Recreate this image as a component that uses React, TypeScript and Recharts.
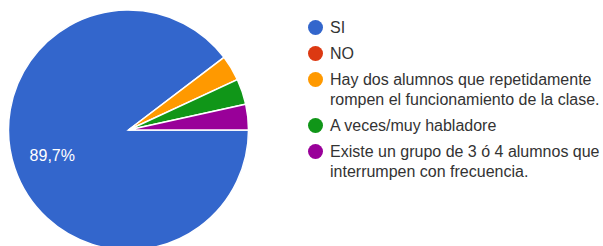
import { PieChart, Pie, Cell, Legend } from "recharts";

const categories = [
  "SI",
  "NO",
  "Hay dos alumnos que repetidamente rompen el funcionamiento de la clase.",
  "A veces/muy habladore",
  "Existe un grupo de 3 ó 4 alumnos que interrumpen con frecuencia.",
];
const responses = [26, 0, 1, 1, 1];
const colors = ["#3366cc", "#dc3912", "#ff9900", "#109618", "#990099"];

const data = categories.map((name, i) => ({ name, value: responses[i] }));

const RADIAN = Math.PI / 180;
const FONT = "Arial, 'Liberation Sans', sans-serif";

function renderLabel(props: any) {
  const { cx, cy, midAngle, outerRadius, percent } = props;
  if (percent < 0.05) return null;
  const r = outerRadius * 0.67;
  const x = cx + r * Math.cos(-midAngle * RADIAN);
  const y = cy + r * Math.sin(-midAngle * RADIAN);
  return (
    <text
      x={x}
      y={y}
      fill="#ffffff"
      fontSize={16}
      fontFamily={FONT}
      textAnchor="middle"
      dominantBaseline="central"
    >
      {(percent * 100).toFixed(1).replace(".", ",") + "%"}
    </text>
  );
}

function LegendList() {
  return (
    <div style={{ fontFamily: FONT, fontSize: 16, color: "#333" }}>
      {categories.map((name, i) => (
        <div key={name} style={{ display: "flex", alignItems: "flex-start", marginBottom: 6 }}>
          <span
            style={{
              width: 15,
              height: 15,
              borderRadius: "50%",
              background: colors[i],
              flex: "none",
              marginTop: 2.5,
              marginRight: 7,
            }}
          />
          <span style={{ lineHeight: "20px", width: 280 }}>{name}</span>
        </div>
      ))}
    </div>
  );
}

export default function App() {
  return (
    <div style={{ position: "absolute", left: 0, top: 0, background: "#fff" }}>
      <PieChart width={603} height={246} margin={{ top: 0, right: 0, bottom: 0, left: 0 }}>
        <Pie
          data={data}
          dataKey="value"
          nameKey="name"
          cx={128.5}
          cy={130}
          outerRadius={120}
          startAngle={0}
          endAngle={-360}
          stroke="#ffffff"
          strokeWidth={1.5}
          label={renderLabel}
          labelLine={false}
          isAnimationActive={false}
        >
          {data.map((d, i) => (
            <Cell key={d.name} fill={colors[i]} />
          ))}
        </Pie>
        <Legend
          layout="vertical"
          verticalAlign="top"
          align="right"
          content={() => <LegendList />}
          wrapperStyle={{ top: 17.5, left: 308, width: 295 }}
        />
      </PieChart>
    </div>
  );
}
